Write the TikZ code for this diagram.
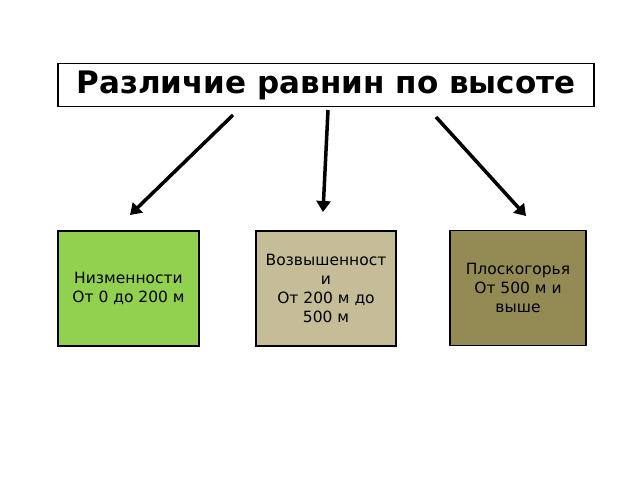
\documentclass[tikz,border=0pt]{standalone}
\usepackage{fontspec}
\setmainfont{DejaVu Sans}
\usetikzlibrary{arrows.meta}
\definecolor{lowgreen}{HTML}{92D050}
\definecolor{hilltan}{HTML}{C4BD97}
\definecolor{plateauolive}{HTML}{948A54}
\tikzset{
	plainpicture/.style = {
		x = 1pt,
		y = -1pt,
		arrow/.style = {
			draw,
			line width = 3.5pt,
			-{Triangle[length=11pt,width=14pt]},
		}
	},
	titlenode/.style = {
		draw = black,
		line width = 1.2pt,
		fill = white,
		minimum width = 536pt,
		minimum height = 43pt,
		font = \fontsize{31}{36}\selectfont\bfseries
	},
	kindnode/.style = {
		draw = black,
		line width = 1.2pt,
		minimum height = 115pt,
		inner sep = 1pt,
		align = center,
		font = \fontsize{15.5}{19}\selectfont
	}
}
\begin{document}
\begin{tikzpicture}[plainpicture]
	\useasboundingbox (0,0) rectangle (640,480);
	\node[titlenode] (title) at (326,85) {Различие равнин по высоте};

	\node[kindnode, fill = lowgreen, minimum width = 141pt] (low) at (128.5,288.5) {Низменности\\От 0 до 200 м};
	\node[kindnode, fill = hilltan, minimum width = 140pt] (hill) at (326,288.5) {Возвышенност\\и\\От 200 м до\\500 м};
	\node[kindnode, fill = plateauolive, minimum width = 136pt] (plat) at (518,288) {Плоскогорья\\От 500 м и\\выше};

	\coordinate (s1) at (233,115);
	\coordinate (e1) at (130,215);
	\coordinate (s2) at (328,110);
	\coordinate (e2) at (323,212);
	\coordinate (s3) at (436,117);
	\coordinate (e3) at (526,216);

	\begin{scope}[every path/.style = arrow]
		\path (s1) to (e1);
		\path (s2) to (e2);
		\path (s3) to (e3);
	\end{scope}
\end{tikzpicture}
\end{document}
